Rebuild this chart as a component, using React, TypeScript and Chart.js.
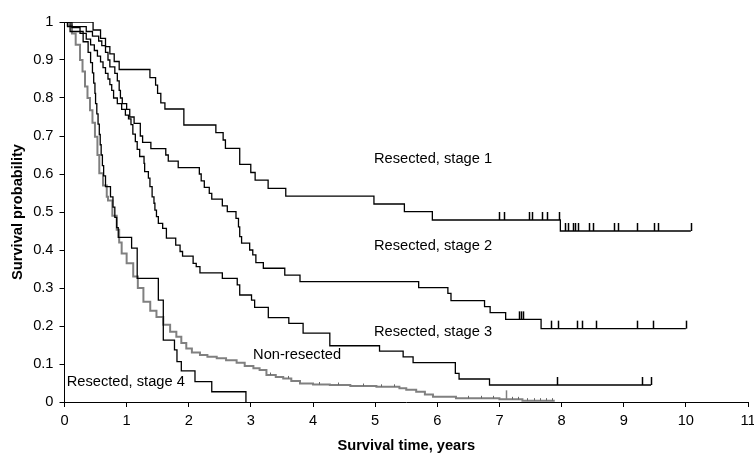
import { useEffect, useRef } from "react";
import { Chart, registerables } from "chart.js";

Chart.register(...registerables);

// ---------- data (time in years, survival probability) ----------
const stage1Times = [0, 0.46, 0.58, 0.66, 0.73, 0.8, 0.88, 1.375, 1.466, 1.498, 1.55, 1.616, 1.921, 2.436, 2.553, 2.59, 2.82, 2.998, 3.068, 3.277, 3.561, 4.98, 5.47, 5.92, 7.98, 10.08];
const stage1Surv = [1, 0.979, 0.957, 0.935, 0.916, 0.896, 0.875, 0.8535, 0.834, 0.812, 0.787, 0.771, 0.729, 0.709, 0.6895, 0.6675, 0.6254, 0.604, 0.584, 0.562, 0.542, 0.521, 0.501, 0.479, 0.45, 0.45];
const stage1Censor = [6.99, 7.08, 7.48, 7.52, 7.69, 7.77, 7.955, 8.06, 8.1, 8.18, 8.21, 8.26, 8.44, 8.5, 8.85, 8.9, 9.21, 9.48, 9.55, 10.08];

const stage2Times = [0, 0.05, 0.35, 0.45, 0.55, 0.6, 0.66, 0.7, 0.73, 0.81, 0.85, 0.88, 0.9, 0.93, 1.0, 1.05, 1.12, 1.22, 1.257, 1.39, 1.63, 1.67, 1.83, 2.17, 2.2, 2.25, 2.33, 2.37, 2.54, 2.62, 2.76, 2.8, 2.82, 2.85, 2.98, 3.03, 3.08, 3.2, 3.545, 3.79, 5.7, 6.17, 6.22, 6.76, 6.85, 7.1, 7.67, 10.0];
const stage2Surv = [1, 0.988, 0.975, 0.963, 0.95, 0.938, 0.92, 0.9, 0.882, 0.865, 0.845, 0.82, 0.8, 0.785, 0.77, 0.75, 0.733, 0.7, 0.683, 0.667, 0.65, 0.634, 0.617, 0.6, 0.582, 0.565, 0.549, 0.534, 0.516, 0.501, 0.483, 0.461, 0.435, 0.418, 0.4, 0.387, 0.367, 0.352, 0.334, 0.3167, 0.301, 0.286, 0.2666, 0.251, 0.235, 0.2175, 0.193, 0.193];
const stage2Censor = [7.31, 7.34, 7.38, 7.83, 7.95, 8.25, 8.33, 8.55, 9.22, 9.47, 10.0];

const stage3Times = [0, 0.12, 0.25, 0.35, 0.42, 0.48, 0.53, 0.58, 0.62, 0.66, 0.7, 0.73, 0.76, 0.79, 0.85, 0.92, 0.98, 1.03, 1.07, 1.1, 1.14, 1.17, 1.21, 1.28, 1.29, 1.35, 1.375, 1.41, 1.44, 1.455, 1.48, 1.51, 1.58, 1.64, 1.79, 1.86, 1.9, 2.07, 2.12, 2.18, 2.54, 2.78, 2.82, 3.01, 3.06, 3.28, 3.61, 3.84, 4.27, 5.07, 5.45, 5.61, 6.29, 6.35, 6.84, 9.44];
const stage3Surv = [1, 0.985, 0.97, 0.955, 0.94, 0.925, 0.91, 0.895, 0.88, 0.865, 0.85, 0.835, 0.82, 0.8, 0.785, 0.77, 0.755, 0.745, 0.73, 0.705, 0.685, 0.665, 0.646, 0.628, 0.606, 0.589, 0.567, 0.54, 0.523, 0.505, 0.488, 0.47, 0.457, 0.431, 0.413, 0.396, 0.384, 0.365, 0.356, 0.34, 0.3255, 0.308, 0.2816, 0.268, 0.249, 0.222, 0.207, 0.181, 0.148, 0.134, 0.119, 0.1035, 0.0755, 0.0605, 0.0447, 0.0447];
const stage3Censor = [7.93, 9.3, 9.44];

const stage4Times = [0, 0.09, 0.3, 0.38, 0.42, 0.45, 0.47, 0.49, 0.5, 0.52, 0.54, 0.56, 0.575, 0.59, 0.61, 0.63, 0.66, 0.74, 0.78, 0.81, 0.84, 0.865, 1.08, 1.17, 1.51, 1.59, 1.77, 1.81, 1.88, 2.1, 2.37, 2.92];
const stage4Surv = [1, 0.975, 0.948, 0.92, 0.893, 0.866, 0.839, 0.812, 0.785, 0.758, 0.731, 0.704, 0.677, 0.65, 0.622, 0.595, 0.567, 0.54, 0.513, 0.486, 0.459, 0.433, 0.405, 0.3255, 0.268, 0.163, 0.137, 0.106, 0.082, 0.0535, 0.027, 0];

const nonResTimes = [0, 0.05, 0.12, 0.18, 0.25, 0.29, 0.33, 0.37, 0.41, 0.45, 0.49, 0.53, 0.56, 0.62, 0.68, 0.7, 0.77, 0.84, 0.88, 0.92, 1.0, 1.106, 1.18, 1.27, 1.38, 1.48, 1.59, 1.7, 1.8, 1.88, 1.96, 2.05, 2.18, 2.3, 2.45, 2.6, 2.77, 2.9, 3.04, 3.14, 3.25, 3.4, 3.52, 3.65, 3.79, 4.0, 4.27, 4.6, 5.02, 5.39, 5.5, 5.66, 5.8, 5.93, 6.3, 7.0, 7.37, 7.89];
const nonResSurv = [1, 0.99, 0.97, 0.94, 0.9, 0.87, 0.83, 0.8, 0.768, 0.735, 0.698, 0.65, 0.602, 0.57, 0.54, 0.53, 0.49, 0.453, 0.42, 0.391, 0.365, 0.33, 0.3, 0.264, 0.24, 0.224, 0.203, 0.185, 0.172, 0.155, 0.141, 0.13, 0.124, 0.119, 0.115, 0.11, 0.1035, 0.095, 0.089, 0.084, 0.071, 0.066, 0.062, 0.055, 0.049, 0.046, 0.0447, 0.042, 0.04, 0.036, 0.032, 0.027, 0.02, 0.014, 0.0097, 0.007, 0.0035, 0.0035];
const nonResCensorTall = [7.11];
const nonResCensorSmall = [3.3, 3.6, 4.1, 4.4, 4.8, 5.1, 5.3, 6.5, 6.7, 6.9, 7.2, 7.3, 7.45, 7.55, 7.65, 7.75, 7.85];

const xTickValues = [0, 1, 2, 3, 4, 5, 6, 7, 8, 9, 10, 11];
const yTickLabels = ["0", "0.1", "0.2", "0.3", "0.4", "0.5", "0.6", "0.7", "0.8", "0.9", "1"];

const annotationTexts = ["Resected, stage 1", "Resected, stage 2", "Resected, stage 3", "Non-resected", "Resected, stage 4"];
const annotationX = [4.98, 4.98, 4.98, 3.035, 0.035];
const annotationY = [0.6395, 0.411, 0.185, 0.124, 0.053];

const FONT = '"Liberation Sans", Arial, Helvetica, sans-serif';
const FS = 14.67;

function toPoints(times: number[], surv: number[]) {
  return times.map((t, i) => ({ x: t, y: surv[i] }));
}

function survAt(times: number[], surv: number[], t: number) {
  let s = surv[0];
  for (let i = 0; i < times.length; i++) if (times[i] <= t) s = surv[i];
  return s;
}

const censorSets = [
  { times: stage1Times, surv: stage1Surv, marks: stage1Censor, len: 8, color: "#000", width: 1.5 },
  { times: stage2Times, surv: stage2Surv, marks: stage2Censor, len: 8, color: "#000", width: 1.5 },
  { times: stage3Times, surv: stage3Surv, marks: stage3Censor, len: 8, color: "#000", width: 1.5 },
  { times: nonResTimes, surv: nonResSurv, marks: nonResCensorTall, len: 9, color: "#808080", width: 1.5 },
  { times: nonResTimes, surv: nonResSurv, marks: nonResCensorSmall, len: 2.5, color: "#666", width: 1 },
];

const overlayPlugin = {
  id: "kmOverlay",
  afterDatasetsDraw(chart: any) {
    const { ctx, scales } = chart;
    const xs = scales.x;
    const ys = scales.y;
    ctx.save();
    for (const set of censorSets) {
      ctx.strokeStyle = set.color;
      ctx.lineWidth = set.width;
      for (const t of set.marks) {
        const px = Math.round(xs.getPixelForValue(t)) + 0.5;
        const py = ys.getPixelForValue(survAt(set.times, set.surv, t));
        ctx.beginPath();
        ctx.moveTo(px, py);
        ctx.lineTo(px, py - set.len);
        ctx.stroke();
      }
    }
    ctx.fillStyle = "#000";
    ctx.font = `${FS}px ${FONT}`;
    ctx.textAlign = "left";
    ctx.textBaseline = "middle";
    annotationTexts.forEach((txt, i) => {
      ctx.fillText(txt, xs.getPixelForValue(annotationX[i]), ys.getPixelForValue(annotationY[i]));
    });
    ctx.restore();
  },
};

export default function App() {
  const ref = useRef<HTMLCanvasElement | null>(null);

  useEffect(() => {
    document.body.style.margin = "0";
    const canvas = ref.current;
    if (!canvas) return;
    const mk = (label: string, times: number[], surv: number[], color: string, width: number) => ({
      label,
      data: toPoints(times, surv),
      borderColor: color,
      backgroundColor: color,
      borderWidth: width,
      stepped: "before" as const,
      pointRadius: 0,
      fill: false,
    });
    const chart = new Chart(canvas, {
      type: "line",
      data: {
        datasets: [
          mk("Resected, stage 1", stage1Times, stage1Surv, "#000", 1.3),
          mk("Resected, stage 2", stage2Times, stage2Surv, "#000", 1.3),
          mk("Resected, stage 3", stage3Times, stage3Surv, "#000", 1.3),
          mk("Resected, stage 4", stage4Times, stage4Surv, "#000", 1.3),
          mk("Non-resected", nonResTimes, nonResSurv, "#808080", 2),
        ],
      },
      options: {
        animation: false,
        responsive: false,
        devicePixelRatio: 1,
        layout: { padding: { left: 0, right: 6, top: 22, bottom: 0 } },
        plugins: { legend: { display: false }, tooltip: { enabled: false } },
        scales: {
          x: {
            type: "linear",
            min: 0,
            max: 11,
            afterBuildTicks: (s: any) => {
              s.ticks = xTickValues.map((v) => ({ value: v }));
            },
            afterFit: (s: any) => {
              s.height = 53;
              s.paddingRight = 0;
              s.paddingLeft = 0;
            },
            ticks: {
              color: "#000",
              font: { family: FONT, size: FS },
              padding: 5,
              maxRotation: 0,
              autoSkip: false,
              callback: (v: any) => String(v),
            },
            grid: { display: true, drawOnChartArea: false, drawTicks: true, tickLength: 5, color: "#000", lineWidth: 1 },
            border: { display: true, color: "#000", width: 1 },
            title: {
              display: true,
              text: "Survival time, years",
              color: "#000",
              font: { family: FONT, size: FS, weight: "bold" },
              padding: { top: 0, bottom: 0 },
            },
          },
          y: {
            type: "linear",
            min: 0,
            max: 1,
            afterBuildTicks: (s: any) => {
              s.ticks = yTickLabels.map((_, i) => ({ value: i / 10 }));
            },
            afterFit: (s: any) => {
              s.width = 64.5;
              s.paddingTop = 0;
              s.paddingBottom = 0;
            },
            ticks: {
              color: "#000",
              font: { family: FONT, size: FS },
              padding: 6,
              autoSkip: false,
              callback: (_v: any, i: number) => yTickLabels[i],
            },
            grid: { display: true, drawOnChartArea: false, drawTicks: true, tickLength: 5, color: "#000", lineWidth: 1 },
            border: { display: true, color: "#000", width: 1 },
            title: {
              display: true,
              text: "Survival probability",
              color: "#000",
              font: { family: FONT, size: FS, weight: "bold" },
              padding: { top: 8.7, bottom: 0 },
            },
          },
        },
      },
      plugins: [overlayPlugin],
    });
    return () => chart.destroy();
  }, []);

  return (
    <div style={{ width: 754, height: 455, background: "#fff" }}>
      <canvas ref={ref} width={754} height={455} style={{ display: "block" }} />
    </div>
  );
}
